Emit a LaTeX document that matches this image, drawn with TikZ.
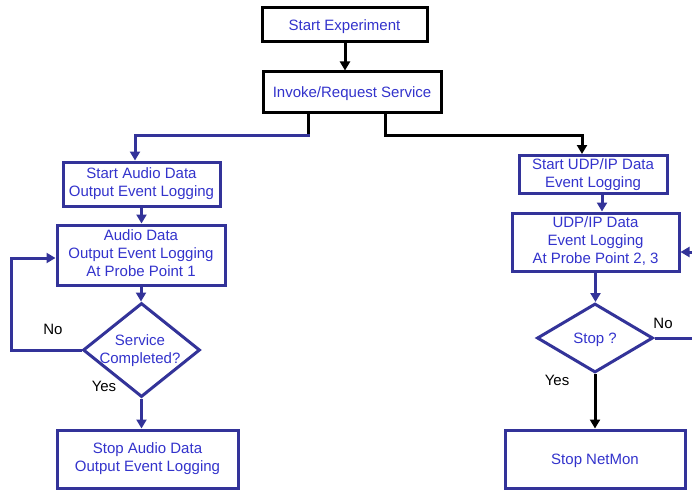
\documentclass[tikz,border=0pt]{standalone}
\usepackage{fontspec}
\setmainfont{Liberation Sans}
\usetikzlibrary{arrows.meta,shapes.geometric,calc}
\definecolor{flowblue}{RGB}{51,51,153}
\definecolor{txtblue}{RGB}{51,51,204}
% struts so that every text block sits at the same height in its box
\newcommand{\topstrutbx}{\rule{0pt}{14.4pt}}
\newcommand{\botstrutbx}{\rule[-3.5pt]{0pt}{3.5pt}}
\begin{document}
\begin{tikzpicture}[x=1pt,y=-1pt,
  every node/.style={font=\fontsize{15}{18.3}\selectfont},
  strutted/.style={execute at begin node=\topstrutbx,execute at end node=\botstrutbx},
  txt/.style={text=txtblue,align=center,inner sep=0pt,strutted},
  blackbox/.style={draw=black,line width=3pt,inner sep=0pt,text=txtblue,strutted},
  bluebox/.style={draw=flowblue,line width=3pt,inner sep=0pt},
  decision/.style={draw=flowblue,line width=3pt,shape=diamond,inner sep=0pt},
  lbl/.style={text=black,inner sep=0pt,strutted},
  tip/.style={-{Triangle[length=9pt,width=10pt]}},
  bline/.style={draw=flowblue,line width=3pt},
  kline/.style={draw=black,line width=3pt},
]
\useasboundingbox[fill=white] (0,0) rectangle (692,492);

% start and service request
\node[blackbox,minimum width=165pt,minimum height=34pt] (se) at (344.5,25) {Start Experiment};
\node[blackbox,minimum width=178pt,minimum height=40pt] (inv) at (352,92) {Invoke/Request Service};

% audio branch
\node[bluebox,minimum width=157pt,minimum height=44pt,txt] (sa) at (141.5,184) {Start Audio Data\\Output Event Logging};
\node[bluebox,minimum width=168pt,minimum height=60pt,txt] (ad) at (141,255) {Audio Data\\Output Event Logging\\At Probe Point 1};
\node[decision,minimum width=117pt,minimum height=94pt] (d1) at (141.5,350) {};
\node[txt] (d1t) at (140,351) {Service\\Completed?};
\node[bluebox,minimum width=181pt,minimum height=58pt,txt] (sad) at (147.5,459) {Stop Audio Data\\Output Event Logging};

% network branch
\node[bluebox,minimum width=148pt,minimum height=38pt,txt] (udpstart) at (593,174.5) {Start UDP/IP Data\\Event Logging};
\node[bluebox,minimum width=167pt,minimum height=58pt,txt] (udplog) at (595.5,242) {UDP/IP Data\\Event Logging\\At Probe Point 2, 3};
\node[decision,minimum width=116pt,minimum height=69pt] (d2) at (595,338) {};
\node[txt] (d2t) at (595,338) {Stop ?};
\node[bluebox,minimum width=180pt,minimum height=58pt,txt] (snm) at (595,459) {Stop NetMon};

% branch labels
\node[lbl] (no1) at (53,329) {No};
\node[lbl] (yes1) at (104,386) {Yes};
\node[lbl] (no2) at (663,323) {No};
\node[lbl] (yes2) at (557,380) {Yes};

% connectors
\coordinate (j1) at (308,135);
\coordinate (j2) at (385,135);
\coordinate (udpx) at (602,0);
\draw[kline,tip] (se.south -| 345,0) -- (inv.north -| 345,0);
\draw[kline] (inv.south -| j1) -- (j1);
\draw[bline,tip] ($(j1)+(1.5,0)$) -| ($(sa.north)+(-6.5,0)$);
\draw[kline,tip] (inv.south -| j2) -- (j2) -| ($(udpstart.north)+(-11,0)$);

\draw[bline,tip] (sa.south) -- (sa.south |- ad.north);
\draw[bline,tip] (ad.south) -- (ad.south |- d1.north);
\draw[bline,tip] (d1.south) -- (d1.south |- sad.north);
\draw[bline,tip] (d1.west) -- ++(-70,0) |- ($(ad.west)+(0,3)$);

\draw[bline,tip] (udplog.south) -- (udplog.south |- d2.north);
\draw[kline,tip] (d2.south) -- (d2.south |- snm.north);
\draw[bline,tip] (d2.east) -- ++(60,0) |- ($(udplog.east)+(0,10)$);
\draw[bline,tip] (udpstart.south -| udpx) -- (udplog.north -| udpx);
\end{tikzpicture}
\end{document}
